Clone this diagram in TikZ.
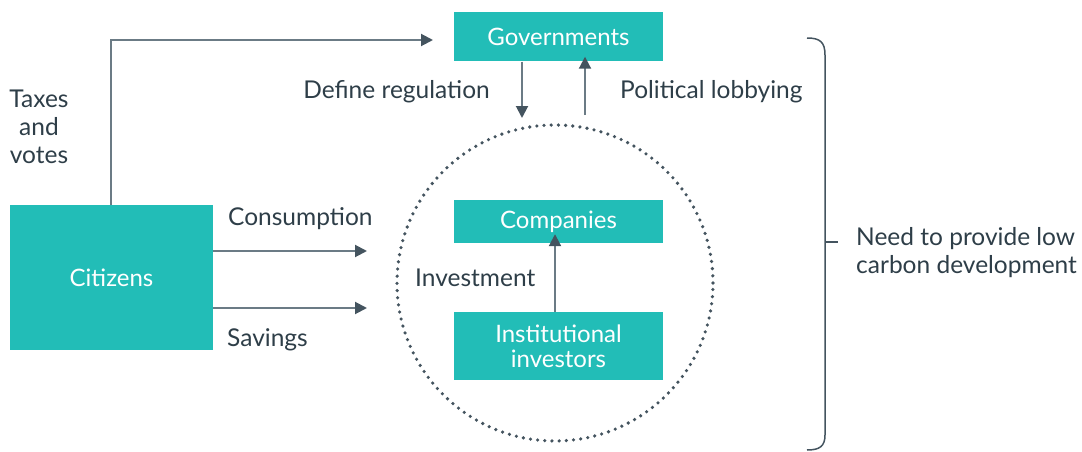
\documentclass[tikz,border=0pt]{standalone}
\usepackage{fontspec}
\setmainfont{Lato}
\usetikzlibrary{arrows.meta}
\definecolor{teal1}{HTML}{22BDB7}
\definecolor{linec}{HTML}{6B7B85}
\definecolor{headc}{HTML}{44545F}
\definecolor{txtc}{HTML}{2E3E48}
\begin{document}
\begin{tikzpicture}[x=1pt,y=-1pt,
  box/.style={fill=teal1,text=white,inner sep=0pt,font=\fontsize{24}{25}\selectfont,align=center},
  lbl/.style={text=txtc,inner sep=0pt,font=\fontsize{24.5}{28}\selectfont,align=center},
  conn/.style={draw=linec,line width=2pt,-{Triangle[length=12pt,width=12pt,fill=headc,color=headc]}}]
\useasboundingbox (0,0) rectangle (1082,452);
\node[box,minimum width=209pt,minimum height=49pt] (gov) at (558.5,37) {Governments};
\node[box,minimum width=203pt,minimum height=145pt] (cit) at (111.5,277.5) {Citizens};
\node[box,minimum width=209pt,minimum height=43pt] (comp) at (558.5,221.5) {Companies};
\node[box,minimum width=209pt,minimum height=68pt] (inst) at (558.5,346) {Institutional\\investors};
\node[draw=headc,line width=3.6pt,dash pattern=on 0pt off 7.2pt,line cap=round,circle,minimum size=316pt,inner sep=0pt] (circ) at (555,283) {};
\coordinate (govin) at (433,40);
\coordinate (c1) at (367,251);
\coordinate (c2) at (367,308);
\coordinate (d1) at (522,118);
\coordinate (u1) at (585,115);
\draw[conn] (cit.north -| 111,0) |- (govin);
\draw[conn] (cit.east |- c1) -- (c1);
\draw[conn] (cit.east |- c2) -- (c2);
\draw[conn] (gov.south -| d1) -- (d1);
\draw[conn] (u1) -- ([yshift=5pt]gov.south -| u1);
\draw[conn] (inst.north -| 555,0) -- ([yshift=9pt]comp.south -| 555,0);
\node[lbl] (tv) at (39,127) {Taxes\\and\\votes};
\node[lbl,anchor=east] (dr) at (490,92) {Define regulation};
\node[lbl,anchor=west] (pl) at (620,92) {Political lobbying};
\node[lbl,anchor=west] (con) at (228,219) {Consumption};
\node[lbl,anchor=west] (sav) at (227,340) {Savings};
\node[lbl,anchor=west] (inv) at (415,278) {Investment};
\node[lbl,anchor=west,align=left] (need) at (856,253) {Need to provide low\\carbon development};
\draw[draw=headc,line width=1.5pt] (807,38) .. controls (820,38) and (825,42) .. (825,55) -- (825,435) .. controls (825,446) and (820,450) .. (807,450);
\draw[draw=headc,line width=1.5pt] (825,242) -- (838,242);
\end{tikzpicture}
\end{document}
